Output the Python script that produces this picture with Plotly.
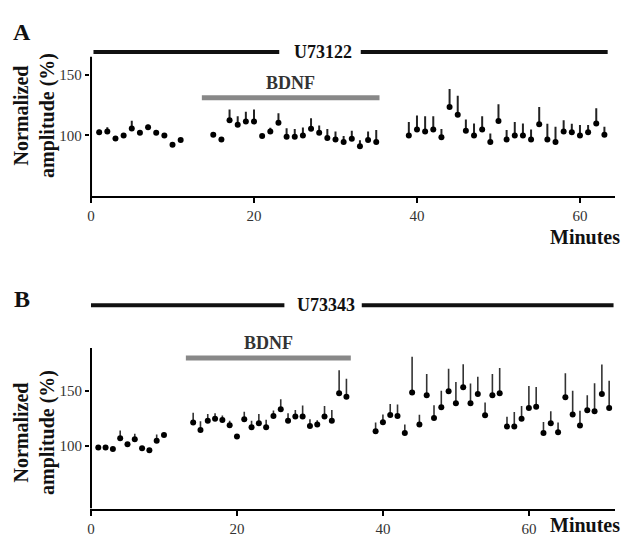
import plotly.graph_objects as go

# ---------------- Panel A (U73122) ----------------
a_minutes = list(range(1, 12)) + list(range(15, 36)) + list(range(39, 64))
a_values = [102.7, 103.3, 97.5, 100, 105.7, 102.2, 106.8, 102.2, 100, 92.3, 96.2,
            100.5, 96.7, 112.5, 108.8, 111.5, 111.5, 99.5, 103.3, 110.4, 98.9, 98.9,
            100, 105.5, 102.2, 97.8, 96.7, 94.5, 97.3, 91, 96.2, 94.5,
            100, 104.9, 103.3, 104.9, 98.4, 123.5, 117, 103.8, 100, 104.9, 94.5, 112,
            96.7, 100, 100, 96.7, 109.3, 96.7, 94.5, 103.3, 102.7, 100, 102.7, 109.8, 100.5]
a_errors = [2, 3.5, 1, 1.5, 6.5, 1.5, 2, 1, 1, 1, 1.5,
            1, 2, 9, 7, 8, 10, 1, 3, 8, 7, 6.5,
            6.5, 8.7, 6, 7.6, 6.5, 5, 6.5, 5, 7, 10,
            11, 11.5, 12.6, 11, 7, 14.8, 15.8, 9.3, 9.8, 11, 7, 13.7,
            7.7, 11, 9.8, 8.2, 14.2, 13, 12.6, 9.3, 7, 8.7, 6, 12.6, 6.6]

# ---------------- Panel B (U73343) ----------------
b_minutes = list(range(1, 11)) + list(range(14, 36)) + list(range(39, 72))
b_values = [98.5, 98.5, 97.3, 107, 101.5, 106, 97.9, 96, 104.8, 110,
            121.2, 114.5, 123, 124.8, 123.6, 118.8, 108.5, 124.2, 117, 120.6, 117,
            127.3, 133.4, 123, 126.7, 126.7, 118.2, 119.4, 126.7, 123, 147.9, 144.8,
            113.4, 121.5, 128.2, 127.3, 111.8, 148.5, 119.4, 146, 125.5, 135.2, 149.7,
            138.8, 153.4, 138.8, 147.3, 127.9, 146, 147.9, 117.6, 117.6, 124.8, 134.5,
            135.7, 111.8, 120.6, 112.5, 144.3, 128.5, 118.5, 132.4, 131.5, 147.3, 134.5]
b_errors = [1, 1, 1, 7, 1, 5, 1, 1, 5.5, 2,
            9, 8, 6, 5, 4, 4, 2, 7, 6, 8.5, 6.7,
            5, 9, 6.7, 6, 10, 6, 4, 9.7, 9.7, 21, 16.4,
            8, 7, 10, 10.3, 7.6, 32.7, 9, 19.4, 11.5, 15, 20.6,
            19.4, 21, 18, 15.7, 11.5, 19.4, 23, 9, 13.3, 11.5, 20,
            18, 10, 11, 8.8, 21.8, 21.8, 13.6, 13.6, 25.5, 26.7, 24.8]

# treatment bars (minutes) and labels
a_drug = "U73122"
a_drug_span = [(0.3, 23.1), (33.1, 63.4)]
a_drug_label_x = 28.5
a_bdnf_span = (13.6, 35.4)
b_drug = "U73343"
b_drug_span = [(0.0, 26.5), (37.1, 71.6)]
b_drug_label_x = 32.2
b_bdnf_span = (13.0, 35.6)
x_ticks = [0, 20, 40, 60]
y_ticks = [100, 150]

SERIF = "Liberation Serif"
W, H = 623, 537

fig = go.Figure()
for xs, ys, es, xa, ya, th, col in [
    (a_minutes, a_values, a_errors, "x", "y", 2, "#222"),
    (b_minutes, b_values, b_errors, "x2", "y2", 1.6, "#333"),
]:
    fig.add_trace(go.Scatter(
        x=xs, y=ys, mode="markers", xaxis=xa, yaxis=ya,
        marker=dict(size=6, color="black"),
        error_y=dict(type="data", symmetric=False, array=es,
                     arrayminus=[0] * len(es), width=0, thickness=th, color=col),
        showlegend=False, hoverinfo="skip"))

shapes = []
annotations = []

def panel_decor(xr, yr, spans, drug, drug_x, drug_y, bdnf, bdnf_y, bdnf_text_y, ymin, ytop):
    for s0, s1 in spans:
        shapes.append(dict(type="line", xref=xr, yref=yr, x0=s0, x1=s1, y0=drug_y, y1=drug_y,
                           line=dict(color="#111", width=4)))
    shapes.append(dict(type="line", xref=xr, yref=yr, x0=bdnf[0], x1=bdnf[1], y0=bdnf_y, y1=bdnf_y,
                       line=dict(color="#888", width=5)))
    # y axis line (only up to top of scale)
    shapes.append(dict(type="line", xref=xr, yref=yr, x0=0, x1=0, y0=ymin, y1=ytop,
                       line=dict(color="black", width=2)))
    annotations.append(dict(text="<b>%s</b>" % drug, xref=xr, yref=yr, x=drug_x, y=drug_y,
                            xanchor="center", yanchor="middle",
                            showarrow=False, font=dict(family=SERIF, size=18, color="#111")))
    annotations.append(dict(text="<b>BDNF</b>", xref=xr, yref=yr, x=(bdnf[0] + bdnf[1]) / 2, y=bdnf_text_y,
                            xanchor="center", yanchor="middle",
                            showarrow=False, font=dict(family=SERIF, size=18, color="#333")))

panel_decor("x", "y", a_drug_span, a_drug, a_drug_label_x, 168.9, a_bdnf_span, 131, 143, 50, 165)
panel_decor("x2", "y2", b_drug_span, b_drug, b_drug_label_x, 228, b_bdnf_span, 180, 194, 43, 189)

def px_x(p):
    return p / W

def px_y(p):
    return 1 - p / H

for lab, y in [("A", 32), ("B", 299)]:
    annotations.append(dict(text="<b>%s</b>" % lab, xref="paper", yref="paper", x=px_x(22), y=px_y(y),
                            xanchor="center", yanchor="middle",
                            showarrow=False, font=dict(family=SERIF, size=24, color="#111")))
for y in [116, 433]:
    annotations.append(dict(text="<b>Normalized<br>amplitude (%)</b>", xref="paper", yref="paper",
                            x=px_x(34), y=px_y(y), textangle=-90, showarrow=False,
                            xanchor="center", yanchor="middle",
                            font=dict(family=SERIF, size=20, color="#111")))
for y in [237, 525]:
    annotations.append(dict(text="<b>Minutes</b>", xref="paper", yref="paper", x=px_x(622), y=px_y(y),
                            xanchor="right", yanchor="middle", showarrow=False,
                            font=dict(family=SERIF, size=20, color="#111")))

xcommon = dict(showline=True, linewidth=2, linecolor="black", ticks="outside", ticklen=5,
               tickwidth=1.5, tickcolor="black", tickvals=x_ticks, showgrid=False, zeroline=False,
               tickfont=dict(family=SERIF, size=15, color="#333"), fixedrange=True)
ycommon = dict(showline=False, ticks="outside", ticklen=4, tickwidth=1.5, tickcolor="black",
               tickvals=y_ticks, showgrid=False, zeroline=False,
               tickfont=dict(family=SERIF, size=15, color="#333"), fixedrange=True)

fig.update_layout(
    width=W, height=H,
    margin=dict(l=0, r=0, t=0, b=0, autoexpand=False),
    paper_bgcolor="white", plot_bgcolor="white",
    xaxis=dict(domain=[89.8 / W, 615 / W], range=[-0.15, 64.3], anchor="y", **xcommon),
    yaxis=dict(domain=[px_y(196), px_y(48.2)], range=[50, 172], anchor="x", **ycommon),
    xaxis2=dict(domain=[89.9 / W, 615 / W], range=[-0.15, 71.8], anchor="y2", **xcommon),
    yaxis2=dict(domain=[px_y(508.6), px_y(297.5)], range=[43, 235], anchor="x2", **ycommon),
    shapes=shapes, annotations=annotations, showlegend=False,
)

fig.write_html("out.html", config={"displayModeBar": False},
               post_script="document.body.style.margin='0';document.body.style.overflow='hidden';")
